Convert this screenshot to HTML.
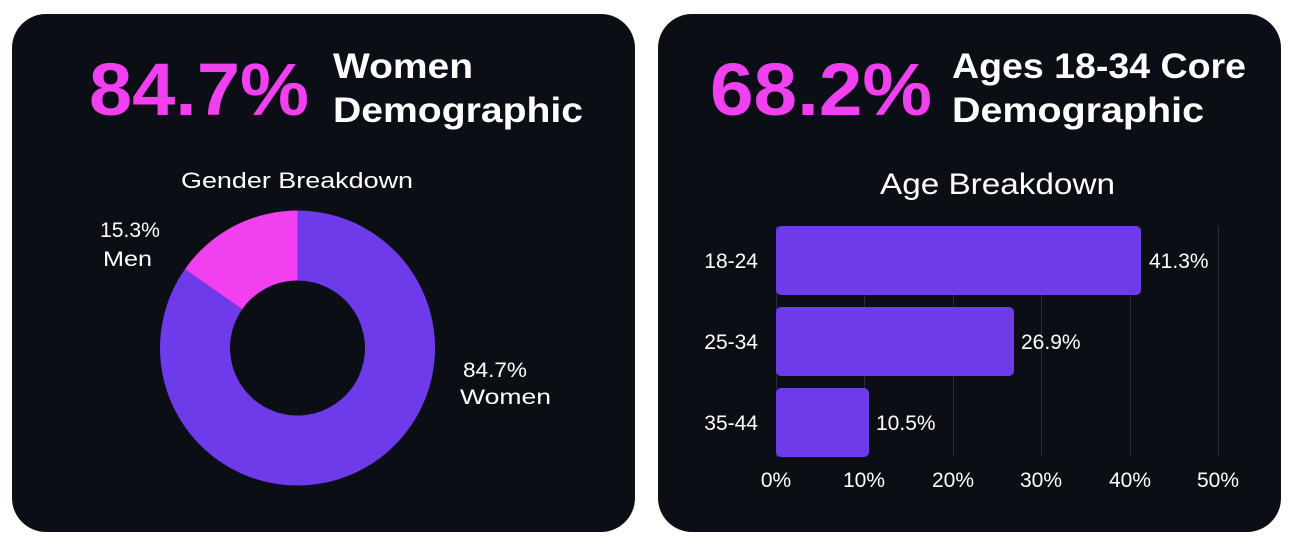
<!DOCTYPE html>
<html><head><meta charset="utf-8"><style>
body{margin:0;background:#fff;width:1294px;height:544px;overflow:hidden}
svg{display:block}
</style></head><body>
<svg width="1294" height="544" viewBox="0 0 1294 544" font-family="Liberation Sans, sans-serif">
<rect x="12" y="14" width="623" height="518" rx="34" fill="#0b0e14"/>
<rect x="658" y="14" width="623" height="518" rx="34" fill="#0b0e14"/>
<text x="89" y="115" font-size="74" fill="#f040f0" font-weight="bold" textLength="220" lengthAdjust="spacingAndGlyphs">84.7%</text>
<text x="333" y="78" font-size="35" fill="#fff" font-weight="bold" textLength="140" lengthAdjust="spacingAndGlyphs">Women</text>
<text x="333" y="122" font-size="35" fill="#fff" font-weight="bold" textLength="250" lengthAdjust="spacingAndGlyphs">Demographic</text>
<text x="181" y="188" font-size="22" fill="#fff" textLength="232" lengthAdjust="spacingAndGlyphs">Gender Breakdown</text>
<path d="M297.5 210.5 A137.5 137.5 0 1 1 184.9 269.1 L242.2 309.3 A67.5 67.5 0 1 0 297.5 280.5 Z" fill="#6e3bea"/>
<path d="M297.5 210.5 A137.5 137.5 0 0 0 184.9 269.1 L242.2 309.3 A67.5 67.5 0 0 1 297.5 280.5 Z" fill="#f040f0"/>
<text x="100" y="237" font-size="21" fill="#fff" textLength="60" lengthAdjust="spacingAndGlyphs">15.3%</text>
<text x="103" y="266" font-size="21" fill="#fff" textLength="49" lengthAdjust="spacingAndGlyphs">Men</text>
<text x="463" y="377" font-size="21" fill="#fff" textLength="64" lengthAdjust="spacingAndGlyphs">84.7%</text>
<text x="460" y="404" font-size="21" fill="#fff" textLength="91" lengthAdjust="spacingAndGlyphs">Women</text>
<text x="710" y="115" font-size="74" fill="#f040f0" font-weight="bold" textLength="222" lengthAdjust="spacingAndGlyphs">68.2%</text>
<text x="952" y="78" font-size="35" fill="#fff" font-weight="bold" textLength="294" lengthAdjust="spacingAndGlyphs">Ages 18-34 Core</text>
<text x="952" y="122" font-size="35" fill="#fff" font-weight="bold" textLength="252" lengthAdjust="spacingAndGlyphs">Demographic</text>
<text x="880" y="194" font-size="30" fill="#fff" textLength="235" lengthAdjust="spacingAndGlyphs">Age Breakdown</text>
<g stroke="#2a2d35" stroke-width="1">
<line x1="776.5" y1="226" x2="776.5" y2="457"/><line x1="864.5" y1="226" x2="864.5" y2="457"/>
<line x1="953.5" y1="226" x2="953.5" y2="457"/><line x1="1041.5" y1="226" x2="1041.5" y2="457"/>
<line x1="1130.5" y1="226" x2="1130.5" y2="457"/><line x1="1218.5" y1="226" x2="1218.5" y2="457"/>
</g>
<g fill="#6e3bea">
<rect x="776" y="226" width="365" height="69" rx="5"/>
<rect x="776" y="307" width="238" height="69" rx="5"/>
<rect x="776" y="388" width="93" height="69" rx="5"/>
</g>
<g fill="#fff" font-size="21">
<text x="758" y="268" text-anchor="end">18-24</text>
<text x="758" y="349" text-anchor="end">25-34</text>
<text x="758" y="430" text-anchor="end">35-44</text>
<text x="1149" y="268">41.3%</text>
<text x="1021" y="349">26.9%</text>
<text x="876" y="430">10.5%</text>
</g>
<g fill="#fff" font-size="21" text-anchor="middle">
<text x="776" y="487">0%</text><text x="864" y="487">10%</text><text x="953" y="487">20%</text>
<text x="1041" y="487">30%</text><text x="1130" y="487">40%</text><text x="1218" y="487">50%</text>
</g>
</svg>
</body></html>
